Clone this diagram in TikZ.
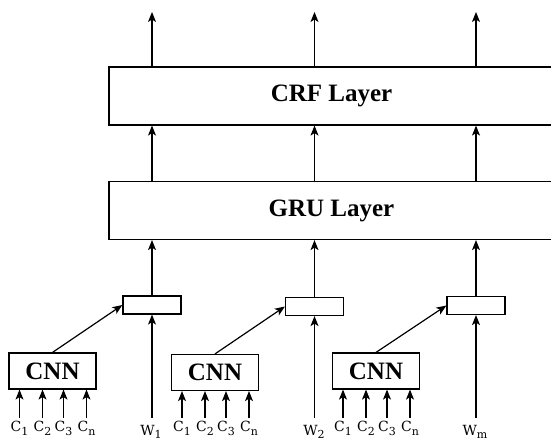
\documentclass[tikz,border=0pt]{standalone}
\usepackage{fontspec}
\setmainfont{Liberation Serif}
\newfontfamily\labfont{DejaVu Serif}
\newcommand\lsub[1]{\raisebox{-3.5pt}{\fontsize{11}{12}\selectfont #1}}
\usetikzlibrary{arrows.meta}
\begin{document}
\begin{tikzpicture}[x=1pt,y=-1pt,
  arr/.style={line width=1.2pt,-{Stealth[length=10pt,width=8pt,inset=2.5pt]}},
  layerbox/.style={draw,line width=1.2pt,minimum height=58pt,inner sep=0pt,
    font=\fontsize{25}{30}\selectfont\bfseries},
  cnnbox/.style={draw,line width=1.2pt,minimum width=87pt,minimum height=36pt,inner sep=0pt,
    font=\fontsize{25}{30}\selectfont\bfseries},
  smallbox/.style={draw,line width=1.2pt,minimum width=58pt,minimum height=18pt,inner sep=0pt},
  lab/.style={anchor=north,inner xsep=0pt,inner ysep=3pt,font=\fontsize{14}{17}\labfont},
  wlab/.style={anchor=north,inner xsep=0pt,inner ysep=7pt,font=\fontsize{14}{17}\labfont}]
\useasboundingbox (0,0) rectangle (551,441);
\clip (0,0) rectangle (551,441);

% stacked layers (running off the right edge)
\node[layerbox,minimum width=445pt] (crf) at (331.5,96) {CRF Layer};
\node[layerbox,minimum width=445pt] (gru) at (331.5,210.5) {GRU Layer};

% word-level concatenation boxes
\node[smallbox] (s1) at (152,305) {};
\node[smallbox] (s2) at (314.5,306.5) {};
\node[smallbox] (s3) at (476,305.5) {};

% character CNNs
\node[cnnbox] (n1) at (52.5,371) {CNN};
\node[cnnbox] (n2) at (215,372.5) {CNN};
\node[cnnbox] (n3) at (376,371) {CNN};

% output arrows
\foreach \i/\x in {1/152,2/314.5,3/476}{
  \coordinate (o\i) at (\x,12);
  \draw[arr] (crf.north -| o\i) -- (o\i);
  \draw[arr] (gru.north -| o\i) -- (crf.south -| o\i);
  \draw[arr] (s\i.north) -- (gru.south -| s\i.north);
  \draw[arr] (n\i.north) -- (s\i.west);
}

% character inputs
\foreach \b/\cx in {1/52.5,2/215,3/376}{
  \foreach \k/\dx/\s in {1/-33/1,2/-10/2,3/11/3,4/34/n}{
    \node[lab] (c\b\k) at (\cx+\dx,418) {C\lsub{\s}};
    \draw[arr] (c\b\k.north) -- (c\b\k.north |- n\b.south);
  }
}

% word inputs
\node[wlab] (w1) at (151,418) {W\lsub{1}};
\node[wlab] (w2) at (314,418) {W\lsub{2}};
\node[wlab] (w3) at (475,418) {W\lsub{m}};
\foreach \i in {1,2,3}{
  \draw[arr] (w\i.north -| s\i.south) -- (s\i.south);
}
\end{tikzpicture}
\end{document}
